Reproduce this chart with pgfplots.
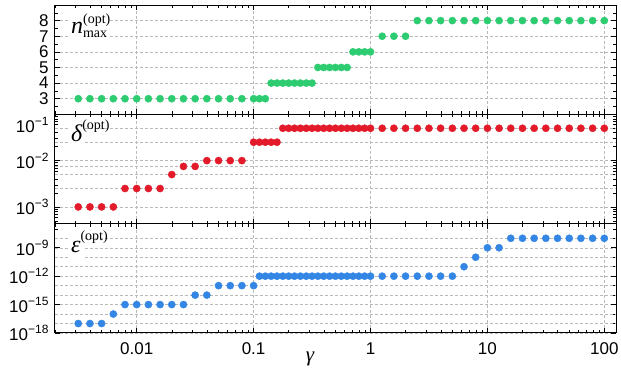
\documentclass[border=0pt]{standalone}
\usepackage{pgfplots}
\pgfplotsset{compat=1.18}
\usepackage{pgfplotstable}
\usepackage{fontspec}
\setmainfont{Liberation Sans}
\newfontfamily\tms{Liberation Serif}

\definecolor{cg}{RGB}{46,204,113}
\definecolor{cr}{RGB}{227,26,42}
\definecolor{cb}{RGB}{52,134,228}

\pgfplotstableread{
g n d e
0.00316228 3 0.001 1e-17
0.00398107 3 0.001 1e-17
0.00501187 3 0.001 1e-17
0.00630957 3 0.001 1e-16
0.00794328 3 0.0025 1e-15
0.01 3 0.0025 1e-15
0.0125893 3 0.0025 1e-15
0.0158489 3 0.0025 1e-15
0.0199526 3 0.005 1e-15
0.0251189 3 0.0075 1e-15
0.0316228 3 0.0075 1e-14
0.0398107 3 0.01 1e-14
0.0501187 3 0.01 1e-13
0.0630957 3 0.01 1e-13
0.0794328 3 0.01 1e-13
0.1 3 0.025 1e-13
0.112202 3 0.025 1e-12
0.125893 3 0.025 1e-12
0.141254 4 0.025 1e-12
0.158489 4 0.025 1e-12
0.177828 4 0.05 1e-12
0.199526 4 0.05 1e-12
0.223872 4 0.05 1e-12
0.251189 4 0.05 1e-12
0.281838 4 0.05 1e-12
0.316228 4 0.05 1e-12
0.354813 5 0.05 1e-12
0.398107 5 0.05 1e-12
0.446684 5 0.05 1e-12
0.501187 5 0.05 1e-12
0.562341 5 0.05 1e-12
0.630957 5 0.05 1e-12
0.707946 6 0.05 1e-12
0.794328 6 0.05 1e-12
0.891251 6 0.05 1e-12
1 6 0.05 1e-12
1.25893 7 0.05 1e-12
1.58489 7 0.05 1e-12
1.99526 7 0.05 1e-12
2.51189 8 0.05 1e-12
3.16228 8 0.05 1e-12
3.98107 8 0.05 1e-12
5.01187 8 0.05 1e-12
6.30957 8 0.05 1e-11
7.94328 8 0.05 1e-10
10 8 0.05 1e-9
12.5893 8 0.05 1e-9
15.8489 8 0.05 1e-8
19.9526 8 0.05 1e-8
25.1189 8 0.05 1e-8
31.6228 8 0.05 1e-8
39.8107 8 0.05 1e-8
50.1187 8 0.05 1e-8
63.0957 8 0.05 1e-8
79.4328 8 0.05 1e-8
100 8 0.05 1e-8
}\data

\newcommand{\tl}[1]{10\raisebox{0.42em}{\fontsize{12}{12}\selectfont −#1}}
\newcommand{\plab}[3]{{\tms\fontsize{24}{24}\selectfont\itshape #1}\rlap{\raisebox{#2}{\tms\fontsize{14}{14}\selectfont (opt)}}\raisebox{-4pt}{\tms\fontsize{14}{14}\selectfont #3}}

\pgfplotsset{mypanel/.style={
  width=561pt, height=109.33pt, scale only axis, clip=false,
  xmin=0.002, xmax=125.9,
  xtick={0.01,0.1,1,10,100},
  minor xtick={0.002,0.003,0.004,0.005,0.006,0.007,0.008,0.009,0.02,0.03,0.04,0.05,0.06,0.07,0.08,0.09,0.2,0.3,0.4,0.5,0.6,0.7,0.8,0.9,2,3,4,5,6,7,8,9,20,30,40,50,60,70,80,90},
  grid=major,
  major grid style={gray!55, line width=0.5pt, dash pattern=on 3pt off 2pt},
  axis line style={line width=1pt},
  tick style={black, line width=0.6pt},
  major tick length=5pt, minor tick length=3pt,
  tick label style={font=\fontsize{17}{17}\selectfont},
  yticklabel style={xshift=-3pt},
  xticklabel style={yshift=-6pt},
}}

\begin{document}
\begin{tikzpicture}
\useasboundingbox (-55pt,-38pt) rectangle (566pt,333pt);

% bottom panel (epsilon)
\begin{axis}[xmode=log, ymode=log, mypanel, at={(0pt,0pt)}, anchor=south west,
  ymin=1e-18, ymax=3.5e-7,
  xticklabels={0.01,0.1,1,10,100},
  ytick={1e-18,1e-15,1e-12,1e-9},
  yticklabels={\tl{18},\tl{15},\tl{12},\tl{9}},
  minor ytick={1e-17,1e-16,1e-14,1e-13,1e-11,1e-10,1e-8,1e-7},
  extra y ticks={1e-17,1e-16,1e-14,1e-13,1e-11,1e-10,1e-8},
  extra y tick labels={},
  extra y tick style={major tick length=0pt},
]
\addplot[only marks, mark=*, mark size=3.6pt, color=cb, mark options={fill=cb, draw=cb}] table[x=g, y=e] {\data};
\node[anchor=base west, fill=white, inner sep=3pt] at (axis description cs:0.023,0.732) {\plab{ε}{12pt}{}};
\node[anchor=base, yshift=-29pt] at (axis description cs:0.4545,0) {\tms\fontsize{21}{21}\selectfont\itshape γ};
\end{axis}

% middle panel (delta)
\begin{axis}[xmode=log, ymode=log, mypanel, at={(0pt,109.33pt)}, anchor=south west,
  ymin=4.35e-4, ymax=0.1,
  xticklabels={},
  ytick={0.001,0.01,0.1},
  yticklabels={\tl{3},\tl{2},\raisebox{-11pt}[\height][\depth]{\tl{1}}},
  minor ytick={0.0005,0.0006,0.0007,0.0008,0.0009,0.002,0.003,0.004,0.005,0.006,0.007,0.008,0.009,0.02,0.03,0.04,0.05,0.06,0.07,0.08,0.09},
  extra y ticks={0.0025,0.005,0.0075,0.025,0.05},
  extra y tick labels={},
  extra y tick style={major tick length=0pt},
]
\addplot[only marks, mark=*, mark size=3.6pt, color=cr, mark options={fill=cr, draw=cr}] table[x=g, y=d] {\data};
\node[anchor=base west, fill=white, inner sep=3pt] at (axis description cs:0.023,0.75) {\plab{δ}{12pt}{}};
\end{axis}

% top panel (n_max)
\begin{axis}[xmode=log, mypanel, at={(0pt,218.67pt)}, anchor=south west,
  ymin=2, ymax=9,
  xticklabels={},
  ytick={3,4,5,6,7,8},
  yticklabels={3,4,5,6,7,8},
  minor ytick={2.5,3.5,4.5,5.5,6.5,7.5,8.5},
]
\addplot[only marks, mark=*, mark size=3.6pt, color=cg, mark options={fill=cg, draw=cg}] table[x=g, y=n] {\data};
\node[anchor=base west, fill=white, inner sep=3pt] at (axis description cs:0.023,0.741) {\plab{n}{10pt}{max}};
\end{axis}
\end{tikzpicture}
\end{document}
